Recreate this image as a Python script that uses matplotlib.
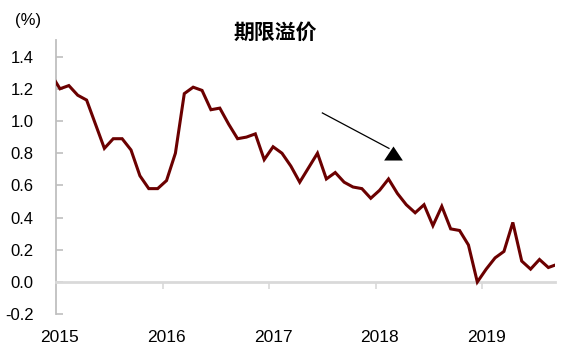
#!/usr/bin/env python3
"""Term premium (期限溢价), monthly, 2015 - 2019."""
import numpy as np
import matplotlib
matplotlib.use("Agg")
import matplotlib.pyplot as plt
import matplotlib.transforms as mtransforms

# --- data --------------------------------------------------------------------
# monthly readings, Dec 2014 .. Sep 2019 (first and last are clipped by the axis)
FIRST_MONTH = -1          # months after Jan 2015
term_premium = [
    1.29,                                                    # 2014-12
    1.20, 1.22, 1.16, 1.13, 0.98, 0.83, 0.89, 0.89, 0.82, 0.66, 0.58, 0.58,   # 2015
    0.63, 0.80, 1.17, 1.21, 1.19, 1.07, 1.08, 0.98, 0.89, 0.90, 0.92, 0.76,   # 2016
    0.84, 0.80, 0.72, 0.62, 0.71, 0.80, 0.64, 0.68, 0.62, 0.59, 0.58, 0.52,   # 2017
    0.57, 0.64, 0.55, 0.48, 0.43, 0.48, 0.35, 0.47, 0.33, 0.32, 0.23, 0.00,   # 2018
    0.08, 0.15, 0.19, 0.37, 0.13, 0.08, 0.14, 0.09, 0.11,                     # 2019
]
years = ["2015", "2016", "2017", "2018", "2019"]
y_ticks = [-0.2, 0.0, 0.2, 0.4, 0.6, 0.8, 1.0, 1.2, 1.4]

TITLE = "期限溢价"
UNIT = "(%)"

LINE_COLOR = "#6b0000"
AXIS_GREY = "#bfbfbf"
ZERO_GREY = "#d9d9d9"

plt.rcParams["font.family"] = ["Liberation Sans", "DejaVu Sans"]

# mid-month positions, counted in months from Jan 2015
x = np.arange(len(term_premium)) + FIRST_MONTH + 0.45

fig = plt.figure(figsize=(5.88, 3.58), dpi=100)
ax = fig.add_axes([0.0952, 0.1223, 0.8487, 0.7646])

ax.plot(x, term_premium, color=LINE_COLOR, linewidth=2.2,
        solid_joinstyle="miter", zorder=3)

ax.set_xlim(0, 56.2)
ax.set_ylim(-0.2, 1.5)

# y axis: grey spine, inward ticks, labels only up to 1.4
for side in ("top", "right"):
    ax.spines[side].set_visible(False)
ax.spines["left"].set_color(AXIS_GREY)
ax.spines["left"].set_linewidth(1.3)
ax.set_yticks(y_ticks)
ax.set_yticklabels([f"{v:.1f}" for v in y_ticks])
ax.tick_params(axis="y", direction="in", length=5, width=1.2, color=AXIS_GREY,
               pad=16, labelsize=12, labelcolor="black")

# x axis sits on the zero line, year labels below the plot
ax.spines["bottom"].set_position(("data", 0))
ax.spines["bottom"].set_color(ZERO_GREY)
ax.spines["bottom"].set_linewidth(2.0)
ax.set_xticks([12 * i for i in range(1, len(years))])
ax.set_xticklabels([])
ax.tick_params(axis="x", direction="out", length=5, width=1.2, color=ZERO_GREY)

lbl_tf = mtransforms.blended_transform_factory(ax.transData, ax.transAxes)
for i, yr in enumerate(years):
    ax.text(12 * i + 0.45, -0.085, yr, transform=lbl_tf, ha="center",
            va="center", fontsize=12.5, clip_on=False)

# downward-trend arrow, flat-based triangle head
head = [(-1.0, -0.75), (1.0, -0.75), (0.0, 0.75), (-1.0, -0.75)]
ax.plot([30.0, 37.5], [1.05, 0.83], color="black", linewidth=0.9, zorder=4)
ax.plot([37.95], [0.80], marker=head, markersize=13.5, color="black",
        markeredgewidth=0, zorder=4)

fig.text(0.468, 0.91, TITLE, ha="center", va="center", fontsize=15,
         fontweight="bold", family=["Noto Sans CJK SC", "DejaVu Sans"])
fig.text(0.048, 0.944, UNIT, ha="center", va="center", fontsize=12)

fig.savefig("out.png", dpi=100)
